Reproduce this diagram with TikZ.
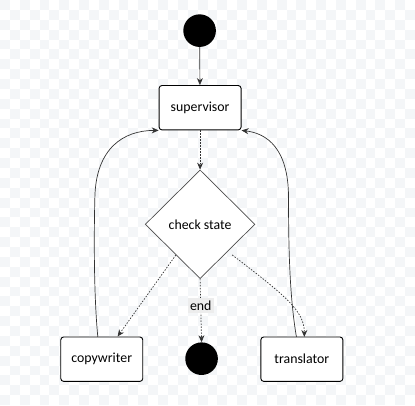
\documentclass[tikz,border=0pt]{standalone}
\usepackage{fontspec}
\setmainfont{Carlito}
\usetikzlibrary{shapes.geometric,arrows.meta}
\definecolor{chk}{HTML}{F4F6F8}
\definecolor{lblbg}{HTML}{EDEDED}
\begin{document}
\begin{tikzpicture}[x=1pt,y=-1pt,
  font=\fontsize{14}{16}\selectfont,
  box/.style={draw=black,fill=white,rounded corners=3pt,line width=0.9pt,minimum width=83pt,minimum height=45pt,inner sep=0pt},
  dec/.style={draw=black!70,fill=white,diamond,aspect=1,line width=0.7pt,minimum width=111pt,minimum height=110pt,inner sep=0pt},
  dot/.style={circle,fill=black,minimum size=33pt,inner sep=0pt},
  tip/.style={-{Stealth[length=7pt,width=6pt]}},
  sol/.style={tip,draw=black!80,line width=0.7pt},
  dots/.style={tip,draw=black!80,line width=0.7pt,dash pattern=on 1.5pt off 1.5pt}]
\fill[white] (0,0) rectangle (415,408);
\foreach \i in {0,...,41}{\foreach \j in {0,...,40}{
  \pgfmathtruncatemacro\p{mod(\i+\j,2)}
  \ifnum\p=0 \fill[chk] (\i*10,\j*10) rectangle ++(10,10);\fi}}
\useasboundingbox (0,0) rectangle (415,408);
\node[dot] (start) at (202,31) {};
\node[box] (sup) at (202.5,109) {supervisor};
\node[dec] (chk) at (202.5,227) {check state};
\node[box] (copy) at (103,363.5) {copywriter};
\node[box] (trans) at (305.5,363.5) {translator};
\node[dot] (fin) at (204,363) {};
\coordinate (c1) at (178,258);
\coordinate (c2) at (235,258);
\draw[sol] (start) -- (sup);
\draw[dots] (sup) -- (chk);
\draw[dots] (c1) -- (copy.north -| 119,0);
\draw[dots] (c2) .. controls (290,300) and (308,315) .. (308,341);
\draw[dots] (chk.south) -- (fin.north) node[pos=0.42,fill=lblbg,inner sep=2.5pt] {end};
\draw[sol] (99,341) .. controls (95,300) and (95,240) .. (96,200) .. controls (97,150) and (125,132) .. (sup.south west);
\draw[sol] (300,341) .. controls (293,300) and (292,250) .. (292,200) .. controls (292,150) and (270,135) .. (sup.south east);
\end{tikzpicture}
\end{document}
